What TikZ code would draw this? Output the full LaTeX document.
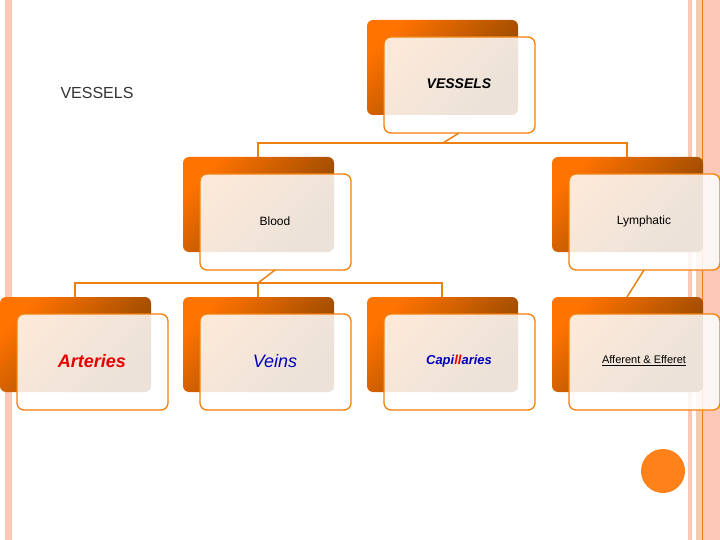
\documentclass[tikz,border=0pt]{standalone}
\usepackage{fontspec}
\setmainfont{Liberation Sans}
\begin{document}
\begin{tikzpicture}[x=1pt,y=-1pt,
  backbox/.style={rounded corners=6pt,left color=orange!90!red,right color=orange!50!black,shading angle=45},
  frontbox/.style={rounded corners=7pt,draw=orange!80!brown,line width=1.3pt,fill=white,fill opacity=0.85},
  conn/.style={draw=orange!70!brown,line width=1.5pt},
  lbl/.style={font=\fontsize{12}{14}\selectfont}]
\useasboundingbox (0,0) rectangle (720,540);
\definecolor{pinkstripe}{RGB}{250,200,180}
\fill[pinkstripe] (5,0) rectangle (12,540);
\fill[pinkstripe] (688,0) rectangle (692,540);
\fill[pinkstripe] (696,0) rectangle (720,540);
\draw[orange!70!brown,line width=0.6pt] (702.5,0) -- (702.5,540);
\fill[orange!90!red!90!white] (663,471) circle (22);
\node[font=\fontsize{16}{18}\selectfont,text=black!80] (title) at (97,93) {VESSELS};
% boxes: name, back x, front y top
\def\mkbox#1#2#3#4{%
  \shade[backbox] (#2,#3) rectangle ++(151,95);
  \draw[frontbox] (#2+17,#3+17) rectangle ++(151,96);
  \node[inner sep=0] (#1) at (#2+92,#3+64) {#4};
  \coordinate (#1top) at (#2+75,#3);
  \coordinate (#1bot) at (#2+92,#3+113);}
\mkbox{vs}{367}{20}{\fontsize{14}{16}\selectfont\bfseries\itshape VESSELS}
\mkbox{bl}{183}{157}{\fontsize{12}{14}\selectfont Blood}
\mkbox{ly}{552}{157}{\fontsize{12}{14}\selectfont Lymphatic}
\mkbox{ar}{0}{297}{\fontsize{18}{20}\selectfont\bfseries\itshape\color{red!90!black}Arteries}
\mkbox{ve}{183}{297}{\fontsize{18}{20}\selectfont\itshape\color{blue!75!black}Veins}
\mkbox{ca}{367}{297}{\fontsize{13}{15}\selectfont\bfseries\itshape\color{blue!75!black}Capi\textcolor{red!90!black}{ll}aries}
\mkbox{af}{552}{297}{\fontsize{11}{13}\selectfont\underline{Afferent \& Efferet}}
\coordinate (h1) at (443,143);
\coordinate (h2) at (258,283);
\draw[conn] (vsbot) -- (h1);
\draw[conn] (bltop) |- (h1) -| (lytop);
\draw[conn] (blbot) -- (h2);
\draw[conn] (artop) |- (h2) -| (catop);
\draw[conn] (h2) -- (vetop);
\draw[conn] (lybot) -- (aftop);
\end{tikzpicture}
\end{document}
